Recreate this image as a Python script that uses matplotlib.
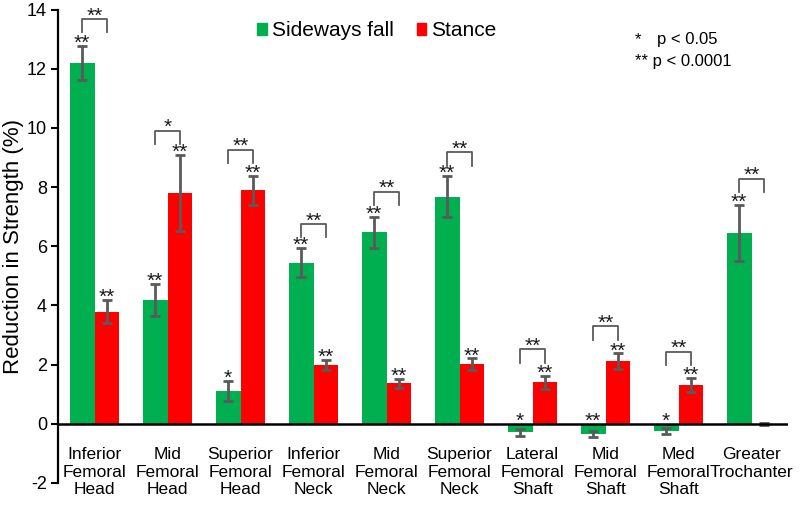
import numpy as np
import matplotlib
matplotlib.use("Agg")
import matplotlib.pyplot as plt
from matplotlib.patches import Patch

plt.rcParams['font.family'] = ['Liberation Sans', 'DejaVu Sans']

# data
regions = ["Inferior\nFemoral\nHead", "Mid\nFemoral\nHead", "Superior\nFemoral\nHead",
           "Inferior\nFemoral\nNeck", "Mid\nFemoral\nNeck", "Superior\nFemoral\nNeck",
           "Lateral\nFemoral\nShaft", "Mid\nFemoral\nShaft", "Med\nFemoral\nShaft",
           "Greater\nTrochanter"]
fall_vals = [12.2, 4.2, 1.1, 5.45, 6.47, 7.68, -0.29, -0.34, -0.23, 6.44]
fall_errs = [0.58, 0.54, 0.34, 0.5, 0.53, 0.7, 0.13, 0.1, 0.1, 0.95]
fall_sig = ["**", "**", "*", "**", "**", "**", "*", "**", "*", "**"]
stance_vals = [3.79, 7.81, 7.89, 1.99, 1.37, 2.01, 1.4, 2.12, 1.3, 0.0]
stance_errs = [0.39, 1.28, 0.5, 0.18, 0.15, 0.2, 0.23, 0.26, 0.24, 0.03]
stance_sig = ["**", "**", "**", "**", "**", "**", "**", "**", "**", ""]
# comparison brackets between the two loads: top of bracket, label
bracket_tops = [13.68, 9.9, 9.26, 6.75, 7.85, 9.18, 2.52, 3.29, 2.43, 8.28]
bracket_sig = ["**", "*", "**", "**", "**", "**", "**", "**", "**", "**"]
yticks = [-2, 0, 2, 4, 6, 8, 10, 12, 14]

GREEN = "#00B050"
RED = "#FF0000"
GRAY = "#5a5a5a"
STAR = "#1a1a1a"

fig = plt.figure(figsize=(8.0, 5.05), dpi=100)
ax = fig.add_axes([0.0725, 0.0436, 0.9125, 0.9374])

x = np.arange(len(regions))
w = 0.34
xg = x - w / 2
xr = x + w / 2

# bars with error bars
ax.bar(xg, fall_vals, w, color=GREEN, zorder=2)
ax.bar(xr, stance_vals, w, color=RED, zorder=2)
ax.errorbar(xg, fall_vals, yerr=fall_errs, fmt="none", ecolor=GRAY,
            elinewidth=2, capsize=3.3, capthick=2, zorder=3)
ax.errorbar(xr, stance_vals, yerr=stance_errs, fmt="none", ecolor=GRAY,
            elinewidth=2, capsize=3.3, capthick=2, zorder=3)

# stars over each bar
for xs, vals, errs, sig in [(xg, fall_vals, fall_errs, fall_sig),
                            (xr, stance_vals, stance_errs, stance_sig)]:
    for xi, v, e, s in zip(xs, vals, errs, sig):
        if not s:
            continue
        top = v + e if v >= 0 else 0.0
        ax.text(xi, top - 0.1, s, ha="center", va="baseline", fontsize=15,
                color=STAR, zorder=4)

# brackets comparing the two loading conditions
leg = 0.45
for i in range(len(regions)):
    t = bracket_tops[i]
    ax.plot([xg[i], xg[i], xr[i], xr[i]], [t - leg, t, t, t - leg],
            color=GRAY, lw=1.3, zorder=3)
    ax.text(x[i], t - 0.08, bracket_sig[i], ha="center", va="baseline",
            fontsize=15, color=STAR)

# zero line and axes
ax.axhline(0, color="black", lw=1.8, zorder=5)
ax.set_xlim(-0.5, len(regions) - 0.5)
ax.set_ylim(-2, 14)
ax.set_yticks(yticks)
ax.set_yticklabels([str(t) for t in yticks], fontsize=13)
ax.tick_params(axis="y", direction="out", length=5, width=1.5, pad=3)
ax.set_xticks([])
for side in ["top", "right", "bottom"]:
    ax.spines[side].set_visible(False)
ax.spines["left"].set_linewidth(1.6)
ax.set_ylabel("Reduction in Strength (%)", fontsize=16, labelpad=2)

# category labels under the zero line
for xi, name in zip(x, regions):
    ax.text(xi, -0.8, name, ha="center", va="top", fontsize=12.5,
            linespacing=1.2, clip_on=False)

# legend
handles = [Patch(color=GREEN, label="Sideways fall"), Patch(color=RED, label="Stance")]
ax.legend(handles=handles, loc="center", bbox_to_anchor=(0.437, 0.955), ncol=2,
          frameon=False, fontsize=15, handlelength=0.45, handleheight=0.45,
          handletextpad=0.25, columnspacing=1.1)

# significance key
ax.text(0.790, 0.937, "*", transform=ax.transAxes, fontsize=12, va="center")
ax.text(0.820, 0.937, "p < 0.05", transform=ax.transAxes, fontsize=12, va="center")
ax.text(0.790, 0.89, "** p < 0.0001", transform=ax.transAxes, fontsize=12, va="center")

plt.savefig("out.png", dpi=100)
